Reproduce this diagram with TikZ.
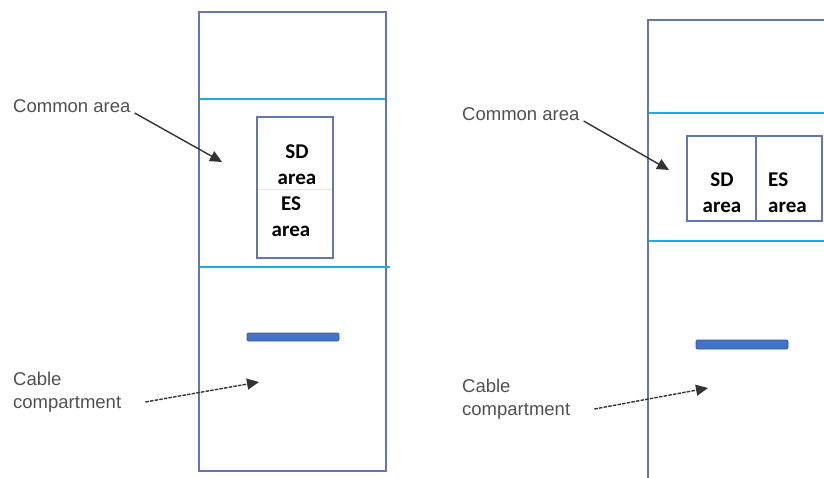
\documentclass[tikz,border=0pt]{standalone}
\usepackage{fontspec}
\setmainfont{Liberation Sans}
\newfontfamily\boxfont{Carlito}
\usetikzlibrary{arrows.meta}
\definecolor{frameblue}{RGB}{98,118,178}
\definecolor{lineblue}{RGB}{25,172,235}
\definecolor{barblue}{RGB}{68,114,196}
\definecolor{labelgray}{RGB}{80,80,80}
\tikzset{
  frame/.style={draw=frameblue, line width=2.4pt},
  divider/.style={draw=lineblue, line width=1.8pt},
  areabox/.style={draw=frameblue, line width=1.8pt},
  bar/.style={fill=barblue, draw=barblue!80!black, line width=0.6pt, rounded corners=1pt},
  callout/.style={font=\fontsize{18.5}{23}\selectfont, text=labelgray, inner sep=0pt, align=left},
  areatext/.style={font=\boxfont\bfseries\fontsize{21}{26}\selectfont, inner sep=0pt},
  pointer/.style={-{Triangle[length=12pt,width=11pt]}, draw=black!80, line width=1.4pt},
  dashpointer/.style={pointer, dash pattern=on 3.5pt off 1.2pt}
}

\begin{document}
\begin{tikzpicture}[x=1pt,y=-1pt]
  \clip (0,0) rectangle (824,478);

  % cabinet with stacked areas
  \draw[frame] (199,12) rectangle (386,471);
  \draw[divider] (200,99) -- (385,99);
  \draw[divider] (200,267) -- (390,267);
  \draw[areabox] (257,117) rectangle (333,258);
  \draw[blue!12, line width=0.6pt] (259,189) -- (331,189);
  \node[areatext, align=center] (sdL) at (297,165) {SD\\area};
  \node[areatext, align=center] (esL) at (291,217) {ES\\area};
  \draw[bar] (247,333) rectangle (339,341);

  \node[callout, anchor=base west] (comL) at (13,113) {Common area};
  \node[callout, anchor=west] (cabL) at (13,392) {Cable\\compartment};
  \coordinate (comTipL) at (222,162);
  \coordinate (cabTipL) at (259,382);
  \draw[pointer] ([xshift=4pt]comL.base east) -- (comTipL);
  \draw[dashpointer] ([shift={(24,10)}]cabL.east) -- (cabTipL);

  % cabinet with side-by-side areas
  \draw[frame] (648,20) rectangle (840,490);
  \draw[divider] (649,113) -- (824,113);
  \draw[divider] (649,241) -- (824,241);
  \draw[areabox] (687,136) rectangle (822,221);
  \draw[areabox] (756,136) -- (756,221);
  \node[areatext, align=center] (sdR) at (722,193) {SD\\area};
  \node[areatext, align=left, anchor=west] (esR) at (768,193) {ES\\area};
  \draw[bar] (696,340) rectangle (788,349);

  \node[callout, anchor=base west] (comR) at (462,121) {Common area};
  \node[callout, anchor=west] (cabR) at (462,399) {Cable\\compartment};
  \coordinate (comTipR) at (669,170);
  \coordinate (cabTipR) at (708,388);
  \draw[pointer] ([xshift=4pt]comR.base east) -- (comTipR);
  \draw[dashpointer] ([shift={(24,10)}]cabR.east) -- (cabTipR);
\end{tikzpicture}
\end{document}
